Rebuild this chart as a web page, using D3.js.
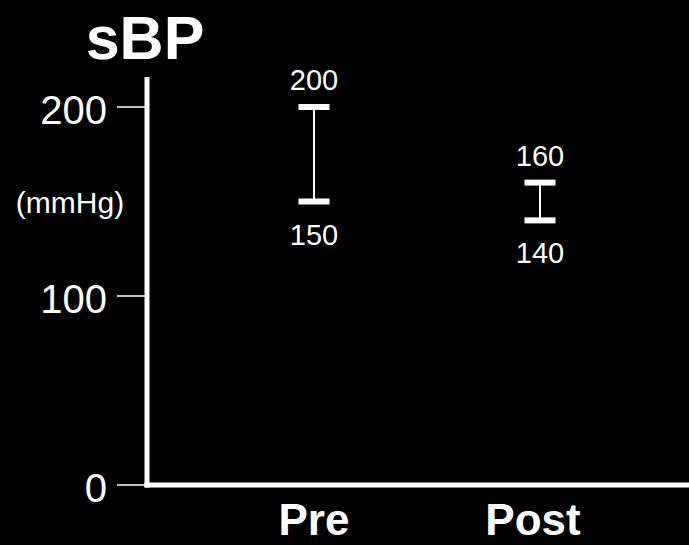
<!DOCTYPE html>
<html>
<head>
<meta charset="utf-8">
<script src="https://cdn.jsdelivr.net/npm/d3@7"></script>
<style>
  html, body { margin: 0; padding: 0; background: #000; }
  svg { display: block; }
  text { font-family: "Liberation Sans", Arial, sans-serif; fill: #fff; }
</style>
</head>
<body>
<svg id="chart" width="689" height="545"></svg>
<script>
const categories = ["Pre", "Post"];
const highValues = [200, 160];
const lowValues = [150, 140];
const yTicks = [0, 100, 200];
const title = "sBP";
const unitLabel = "(mmHg)";

const W = 689, H = 545;
const svg = d3.select("#chart");
svg.append("rect").attr("width", W).attr("height", H).attr("fill", "#000");

const axisX = 147, axisY = 485;
const y = d3.scaleLinear().domain([0, 200]).range([485, 107]);
const x = d3.scalePoint().domain(categories).range([314, 540]);

// title
svg.append("text").attr("x", 145).attr("y", 59).attr("text-anchor", "middle")
  .attr("font-size", 61).attr("font-weight", "bold").text(title);

// unit label
svg.append("text").attr("x", 70).attr("y", 213).attr("text-anchor", "middle")
  .attr("font-size", 30).text(unitLabel);

// y axis line
svg.append("line").attr("x1", axisX).attr("x2", axisX).attr("y1", 77).attr("y2", axisY + 2.5)
  .attr("stroke", "#fff").attr("stroke-width", 5);
// x axis line
svg.append("line").attr("x1", axisX - 2.5).attr("x2", W).attr("y1", axisY).attr("y2", axisY)
  .attr("stroke", "#fff").attr("stroke-width", 5);

// ticks
const tg = svg.append("g").selectAll("g").data(yTicks).join("g")
  .attr("transform", d => `translate(0,${y(d)})`);
tg.append("line").attr("x1", 117).attr("x2", axisX).attr("stroke", "#fff").attr("stroke-width", 1.5);
tg.append("text").attr("x", 107).attr("y", 0).attr("dy", 17).attr("text-anchor", "end")
  .attr("font-size", 40).text(d => d);

// range bars
const data = categories.map((c, i) => ({c, hi: highValues[i], lo: lowValues[i]}));
const bars = svg.append("g").selectAll("g").data(data).join("g");
bars.append("line").attr("x1", d => x(d.c)).attr("x2", d => x(d.c))
  .attr("y1", d => y(d.hi)).attr("y2", d => y(d.lo))
  .attr("stroke", "#fff").attr("stroke-width", 2);
bars.append("line").attr("x1", d => x(d.c) - 15.5).attr("x2", d => x(d.c) + 15.5)
  .attr("y1", d => y(d.hi)).attr("y2", d => y(d.hi))
  .attr("stroke", "#fff").attr("stroke-width", 6);
bars.append("line").attr("x1", d => x(d.c) - 15.5).attr("x2", d => x(d.c) + 15.5)
  .attr("y1", d => y(d.lo)).attr("y2", d => y(d.lo))
  .attr("stroke", "#fff").attr("stroke-width", 6);
bars.append("text").attr("x", d => x(d.c)).attr("y", d => y(d.hi) - 17)
  .attr("text-anchor", "middle").attr("font-size", 29).text(d => d.hi);
bars.append("text").attr("x", d => x(d.c)).attr("y", d => y(d.lo) + 43)
  .attr("text-anchor", "middle").attr("font-size", 29).text(d => d.lo);

// category labels
svg.append("g").selectAll("text").data(categories).join("text")
  .attr("x", (d, i) => x(d) - (i === 1 ? 7 : 0)).attr("y", 535)
  .attr("text-anchor", "middle").attr("font-size", 44).attr("font-weight", "bold")
  .text(d => d);
</script>
</body>
</html>
